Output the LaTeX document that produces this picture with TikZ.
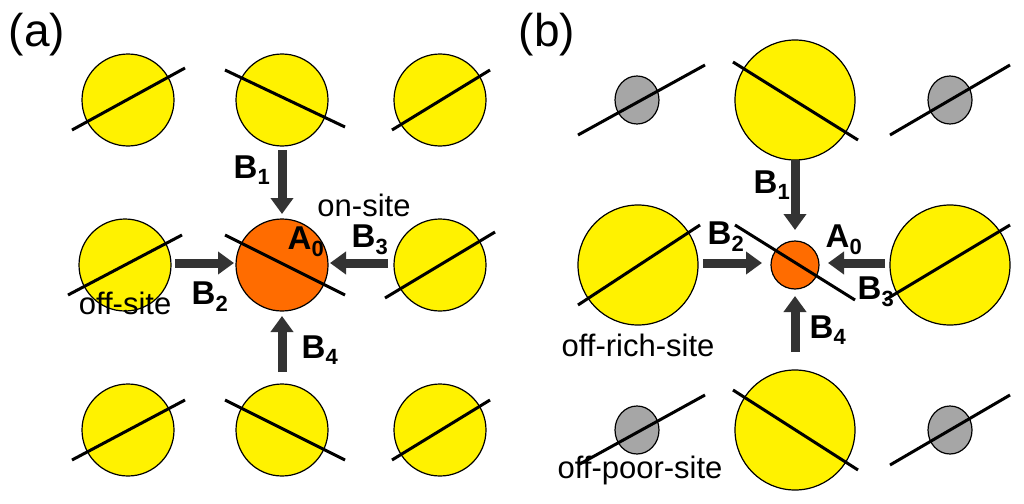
\documentclass[tikz,border=0pt]{standalone}
\usepackage{fontspec}
\setmainfont{Liberation Sans}
\usetikzlibrary{arrows.meta,shapes.geometric}
\begin{document}
\begin{tikzpicture}[x=1pt,y=-1pt,
 yc/.style={circle,draw=black,line width=1.2pt,fill=yellow,inner sep=0pt},
 oc/.style={circle,draw=black,line width=1.2pt,fill=orange!85!red,inner sep=0pt},
 gc/.style={ellipse,draw=black,line width=1.2pt,fill=gray!70,inner sep=0pt},
 rod/.style={line width=3pt,black},
 ar/.style={line width=9pt,draw=black!80,-{Triangle[length=16pt,width=22pt]}},
 bl/.style={font=\fontsize{33}{33}\selectfont\bfseries},
 tx/.style={font=\fontsize{31}{31}\selectfont}]
\useasboundingbox (0,0) rectangle (1024,503);
\newcommand{\Bl}[1]{B\textsubscript{\normalfont\fontsize{22}{22}\selectfont\bfseries #1}}
% panel a
\foreach \n/\x/\y in {a1/128/100,a2/282/100,a3/440/100,a4/125/265,a6/440/265,a7/128/430,a8/282/430,a9/440/430}
  \node[yc,minimum size=92pt] (\n) at (\x,\y) {};
\node[oc,minimum size=92pt] (a5) at (282,265) {};
\draw[rod] (72,130)--(185,68); \draw[rod] (225,70)--(345,127); \draw[rod] (392,130)--(490,70);
\draw[rod] (68,295)--(182,235); \draw[rod] (225,235)--(345,295); \draw[rod] (385,298)--(495,232);
\draw[rod] (72,460)--(185,400); \draw[rod] (225,400)--(345,460); \draw[rod] (392,460)--(490,400);
\coordinate (p1) at (282,150); \coordinate (q1) at (282,214);
\coordinate (p2) at (175,263); \coordinate (q2) at (234,263);
\coordinate (p3) at (388,263); \coordinate (q3) at (330,263);
\coordinate (p4) at (282,372); \coordinate (q4) at (282,316);
\foreach \i in {1,...,4} \draw[ar] (p\i)--(q\i);
\node[bl] (ab1) at (252,170) {\Bl{1}};
\node[bl] (ab2) at (210,297) {\Bl{2}};
\node[bl] (ab3) at (370,240) {\Bl{3}};
\node[bl] (ab4) at (320,350) {\Bl{4}};
\node[bl] (aa0) at (306,242) {A\textsubscript{\normalfont\fontsize{22}{22}\selectfont\bfseries 0}};
\node[tx] (on) at (364,205) {on-site};
\node[tx] (off) at (125,303) {off-site};
\node[font=\fontsize{46}{46}\selectfont] (la) at (37,35) {(a)};
% panel b
\foreach \n/\x/\y in {g1/637/100,g2/950/100,g3/637/430,g4/950/430}
  \node[gc,minimum width=44pt,minimum height=48pt] (\n) at (\x,\y) {};
\foreach \n/\x/\y in {b1/795/100,b2/638/265,b3/950/265,b4/795/430}
  \node[yc,minimum size=120pt] (\n) at (\x,\y) {};
\node[oc,minimum size=48pt] (b0) at (795,265) {};
\draw[rod] (578,135)--(705,65); \draw[rod] (733,62)--(858,140); \draw[rod] (890,135)--(1010,65);
\draw[rod] (578,305)--(700,225); \draw[rod] (735,225)--(855,300); \draw[rod] (885,300)--(1010,225);
\draw[rod] (578,465)--(705,395); \draw[rod] (733,390)--(858,470); \draw[rod] (890,465)--(1010,395);
\coordinate (r1) at (795,160); \coordinate (s1) at (795,230);
\coordinate (r2) at (703,263); \coordinate (s2) at (762,263);
\coordinate (r3) at (885,263); \coordinate (s3) at (828,263);
\coordinate (r4) at (795,352); \coordinate (s4) at (795,296);
\foreach \i in {1,...,4} \draw[ar] (r\i)--(s\i);
\node[bl] (bb1) at (772,185) {\Bl{1}};
\node[bl] (bb2) at (726,237) {\Bl{2}};
\node[bl] (bb3) at (876,292) {\Bl{3}};
\node[bl] (bb4) at (828,330) {\Bl{4}};
\node[bl] (ba0) at (844,240) {A\textsubscript{\normalfont\fontsize{22}{22}\selectfont\bfseries 0}};
\node[tx] (rich) at (638,345) {off-rich-site};
\node[tx] (poor) at (640,470) {off-poor-site};
\node[font=\fontsize{46}{46}\selectfont] (lb) at (547,35) {(b)};
\end{tikzpicture}
\end{document}
